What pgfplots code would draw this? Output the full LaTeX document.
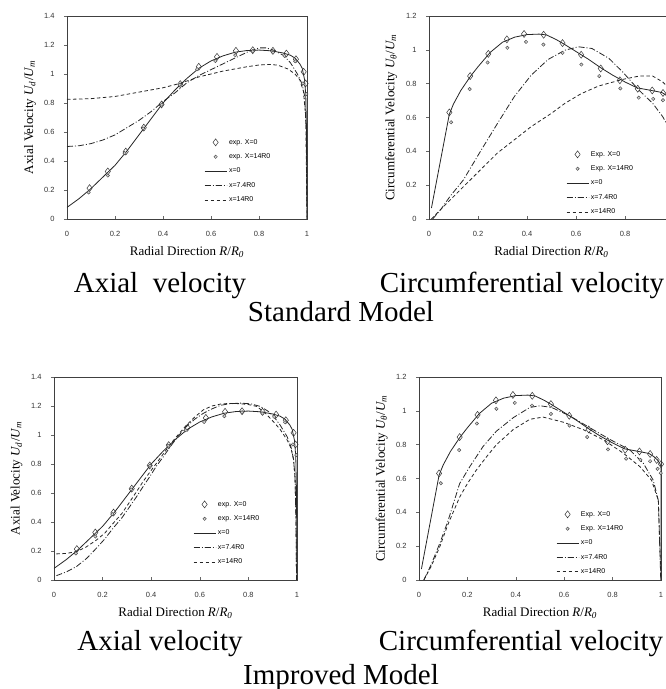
\documentclass[border=0pt]{standalone}
\usepackage{fontspec}
\setmainfont{Liberation Serif}
\setsansfont{Liberation Sans}
\usepackage{pgfplots}
\pgfplotsset{compat=1.18}

\pgfplotsset{
  panel/.style={
    scale only axis, height=203pt,
    xmin=0, xmax=1, ymin=0,
    xtick={0,0.2,...,1},
    axis line style={black!75, line width=0.6pt},
    tick align=inside, major tick length=3pt, tick pos=left,
    ytick style={xshift=-3pt},
    tick style={black!60, line width=0.5pt},
    ticklabel style={font=\sffamily\fontsize{7.5}{8}\selectfont, text=black!80},
    xticklabel style={yshift=-9pt},
    yticklabel style={xshift=-9pt},
    /pgf/number format/assume math mode=true,
    xlabel={Radial Direction \textit{R}/\textit{R}\textsubscript{\textit{0}}},
    label style={font=\fontsize{13}{15}\selectfont},
    xlabel style={at={(axis description cs:0.5,-0.182)}, anchor=base},
    ylabel style={at={(axis description cs:-0.154,0.5)}, anchor=center},
    legend style={draw=none, fill=none, inner sep=0pt, anchor=north west,
      font=\sffamily\fontsize{7}{8}\selectfont, row sep=4pt, cells={anchor=west}},
    legend image code/.code={\draw[mark repeat=2,mark phase=2]
      plot coordinates {(0pt,0pt) (11pt,0pt) (22pt,0pt)};},
  },
  expA/.style={only marks, mark=diamond, mark size=3.5pt,
    mark options={solid, draw=black!80, line width=0.5pt}},
  expB/.style={only marks, mark=*, mark size=1.7pt,
    mark options={solid, draw=black!70, fill=gray!35, line width=0.45pt}},
  c0/.style={black!85, line width=0.8pt, mark=none},
  c74/.style={black!85, line width=0.8pt, mark=none, dash pattern=on 6pt off 2pt on 1pt off 2pt},
  c14/.style={black!85, line width=0.8pt, mark=none, dash pattern=on 3.5pt off 2.5pt},
}

% experimental points, shared by both models
\def\axA{(0.094,0.213)(0.17,0.328)(0.245,0.465)(0.32,0.63)(0.394,0.79)(0.472,0.93)(0.549,1.05)(0.625,1.118)(0.704,1.16)(0.774,1.164)(0.858,1.16)(0.914,1.141)(0.954,1.102)(0.986,1.015)(0.994,0.935)}
\def\axB{(0.09,0.183)(0.17,0.30)(0.24,0.454)(0.317,0.625)(0.395,0.788)(0.47,0.926)(0.542,1.033)(0.618,1.09)(0.701,1.13)(0.774,1.157)(0.858,1.148)(0.906,1.125)(0.951,1.088)(0.983,0.935)(0.997,0.862)}
\def\axC{(0,0.08)(0.05,0.14)(0.1,0.21)(0.15,0.29)(0.2,0.37)(0.25,0.47)(0.3,0.58)(0.35,0.69)(0.4,0.80)(0.45,0.89)(0.5,0.97)(0.55,1.04)(0.6,1.09)(0.65,1.125)(0.7,1.15)(0.75,1.162)(0.8,1.165)(0.85,1.16)(0.9,1.145)(0.93,1.13)(0.95,1.11)(0.97,1.07)(0.98,1.04)(0.99,0.96)(0.995,0.85)(0.998,0.6)(1.0,0)}
\def\ciA{(0.083,0.63)(0.168,0.845)(0.242,0.976)(0.318,1.062)(0.388,1.094)(0.468,1.089)(0.545,1.04)(0.621,0.971)(0.701,0.89)(0.779,0.82)(0.852,0.77)(0.911,0.76)(0.955,0.745)(0.982,0.71)(1.0,0.685)}
\def\ciB{(0.09,0.572)(0.166,0.768)(0.239,0.925)(0.32,1.012)(0.396,1.047)(0.467,1.031)(0.545,0.982)(0.622,0.913)(0.695,0.845)(0.781,0.772)(0.856,0.717)(0.915,0.71)(0.955,0.702)(0.986,0.657)(0.999,0.632)}
\def\ciC{(0.01,0.065)(0.083,0.62)(0.1,0.68)(0.13,0.76)(0.17,0.845)(0.2,0.9)(0.25,0.985)(0.3,1.045)(0.35,1.075)(0.4,1.09)(0.45,1.093)(0.48,1.088)(0.52,1.06)(0.55,1.035)(0.6,0.99)(0.65,0.945)(0.7,0.895)(0.75,0.85)(0.8,0.81)(0.85,0.775)(0.9,0.762)(0.95,0.748)(0.97,0.73)(0.985,0.71)(0.995,0.69)(1.0,0.67)(1.0,0)}

\begin{document}
\begin{tikzpicture}[x=1pt, y=1pt]
\path[use as bounding box] (0,0) rectangle (666,689);
\clip (0,0) rectangle (666,689);
\coordinate (pTL) at (67,470);
\coordinate (pTR) at (429,470);
\coordinate (pBL) at (54,109);
\coordinate (pBR) at (419,109);

% ---- Standard model, axial
\begin{axis}[panel, at={(pTL)}, anchor=south west, width=240pt,
  ymax=1.4, ytick={0,0.2,...,1.4},
  ylabel={Axial Velocity \textit{U\textsubscript{d}}/\textit{U\textsubscript{m}}},
  legend style={at={(axis description cs:0.571,0.404)}}]
\addplot[expA] coordinates {\axA};
\addplot[expB] coordinates {\axB};
\addplot[c0] coordinates {\axC};
\addplot[c74] coordinates {(0,0.50)(0.05,0.505)(0.1,0.52)(0.15,0.545)(0.2,0.58)(0.25,0.63)(0.3,0.68)(0.35,0.74)(0.4,0.81)(0.45,0.87)(0.5,0.94)(0.55,0.99)(0.6,1.03)(0.65,1.07)(0.7,1.11)(0.75,1.15)(0.8,1.18)(0.83,1.18)(0.86,1.165)(0.9,1.13)(0.93,1.08)(0.96,1.0)(0.98,0.93)(0.99,0.85)(0.997,0.6)(1.0,0)};
\addplot[c14] coordinates {(0,0.825)(0.1,0.83)(0.2,0.845)(0.3,0.875)(0.4,0.905)(0.47,0.935)(0.55,0.98)(0.6,1.0)(0.65,1.02)(0.7,1.035)(0.75,1.05)(0.8,1.062)(0.85,1.066)(0.88,1.06)(0.92,1.035)(0.95,1.0)(0.97,0.96)(0.985,0.88)(0.995,0.7)(1.0,0)};
\legend{exp. X=0, exp. X=14R0, x=0, x=7.4R0, x=14R0}
\end{axis}

% ---- Standard model, circumferential (cut at the right edge)
\begin{axis}[panel, at={(pTR)}, anchor=south west, width=245pt,
  ymax=1.2, ytick={0,0.2,...,1.2},
  xticklabels={0,0.2,0.4,0.6,0.8,{}},
  ylabel={Circumferential Velocity \textit{U\textsubscript{θ}}/\textit{U\textsubscript{m}}},
  legend style={at={(axis description cs:0.559,0.345)}}]
\addplot[expA] coordinates {\ciA};
\addplot[expB] coordinates {\ciB};
\addplot[c0] coordinates {\ciC};
\addplot[c74] coordinates {(0.015,0)(0.05,0.06)(0.086,0.134)(0.14,0.23)(0.21,0.40)(0.28,0.566)(0.348,0.723)(0.417,0.85)(0.486,0.943)(0.555,0.998)(0.61,1.018)(0.665,1.008)(0.734,0.95)(0.79,0.87)(0.858,0.76)(0.913,0.684)(0.954,0.605)(0.98,0.536)(0.995,0.45)(1.0,0)};
\addplot[c14] coordinates {(0.01,0)(0.05,0.06)(0.14,0.19)(0.279,0.39)(0.35,0.47)(0.417,0.546)(0.5,0.625)(0.555,0.684)(0.62,0.74)(0.692,0.786)(0.79,0.825)(0.858,0.845)(0.913,0.845)(0.954,0.81)(0.98,0.772)(0.995,0.7)(1.0,0)};
\legend{Exp. X=0, Exp. X=14R0, x=0, x=7.4R0, x=14R0}
\end{axis}

% ---- Improved model, axial
\begin{axis}[panel, at={(pBL)}, anchor=south west, width=243pt,
  ymax=1.4, ytick={0,0.2,...,1.4},
  ylabel={Axial Velocity \textit{U\textsubscript{d}}/\textit{U\textsubscript{m}}},
  legend style={at={(axis description cs:0.572,0.399)}}]
\addplot[expA] coordinates {\axA};
\addplot[expB] coordinates {\axB};
\addplot[c0] coordinates {\axC};
\addplot[c74] coordinates {(0.01,0.03)(0.05,0.055)(0.092,0.092)(0.135,0.15)(0.175,0.22)(0.21,0.285)(0.243,0.357)(0.28,0.43)(0.312,0.507)(0.34,0.575)(0.367,0.645)(0.395,0.715)(0.422,0.787)(0.45,0.85)(0.477,0.916)(0.51,0.99)(0.546,1.06)(0.58,1.11)(0.615,1.15)(0.65,1.18)(0.684,1.204)(0.72,1.215)(0.766,1.22)(0.81,1.215)(0.849,1.197)(0.88,1.165)(0.904,1.128)(0.93,1.07)(0.959,0.99)(0.975,0.92)(0.986,0.83)(0.992,0.7)(0.996,0.4)(0.998,0)};
\addplot[c14] coordinates {(0.01,0.18)(0.05,0.183)(0.092,0.196)(0.13,0.225)(0.175,0.276)(0.21,0.325)(0.243,0.39)(0.28,0.46)(0.312,0.54)(0.34,0.61)(0.367,0.68)(0.395,0.745)(0.422,0.806)(0.45,0.87)(0.477,0.933)(0.51,1.0)(0.546,1.07)(0.58,1.125)(0.615,1.174)(0.65,1.2)(0.684,1.213)(0.72,1.218)(0.766,1.216)(0.8,1.21)(0.835,1.197)(0.87,1.15)(0.904,1.09)(0.93,1.04)(0.959,0.967)(0.975,0.91)(0.986,0.83)(0.992,0.7)(0.996,0.4)(0.998,0)};
\legend{exp. X=0, exp. X=14R0, x=0, x=7.4R0, x=14R0}
\end{axis}

% ---- Improved model, circumferential
\begin{axis}[panel, at={(pBR)}, anchor=south west, width=242pt,
  ymax=1.2, ytick={0,0.2,...,1.2},
  ylabel={Circumferential Velocity \textit{U\textsubscript{θ}}/\textit{U\textsubscript{m}}},
  legend style={at={(axis description cs:0.566,0.35)}}]
\addplot[expA] coordinates {\ciA};
\addplot[expB] coordinates {\ciB};
\addplot[c0] coordinates {\ciC};
\addplot[c74] coordinates {(0.02,0)(0.05,0.09)(0.086,0.217)(0.12,0.35)(0.168,0.57)(0.21,0.67)(0.265,0.79)(0.32,0.88)(0.39,0.96)(0.458,1.02)(0.5,1.03)(0.548,1.02)(0.623,0.97)(0.706,0.9)(0.79,0.83)(0.87,0.77)(0.927,0.69)(0.968,0.59)(0.989,0.47)(0.999,0)};
\addplot[c14] coordinates {(0.02,0)(0.05,0.08)(0.086,0.197)(0.12,0.33)(0.168,0.49)(0.2,0.57)(0.237,0.65)(0.28,0.73)(0.32,0.8)(0.39,0.89)(0.458,0.95)(0.513,0.963)(0.596,0.933)(0.68,0.888)(0.763,0.828)(0.844,0.75)(0.913,0.67)(0.961,0.59)(0.989,0.47)(1.0,0)};
\legend{Exp. X=0, Exp. X=14R0, x=0, x=7.4R0, x=14R0}
\end{axis}

% captions
\begin{scope}[every node/.style={font=\fontsize{29}{32}\selectfont, anchor=base, inner sep=0pt}]
\node at (160,396) {Axial~ velocity};
\node at (522,396) {Circumferential velocity};
\node at (341,367) {Standard Model};
\node at (160,38) {Axial velocity};
\node at (521,38) {Circumferential velocity};
\node at (341,5) {Improved Model};
\end{scope}
\end{tikzpicture}
\end{document}
